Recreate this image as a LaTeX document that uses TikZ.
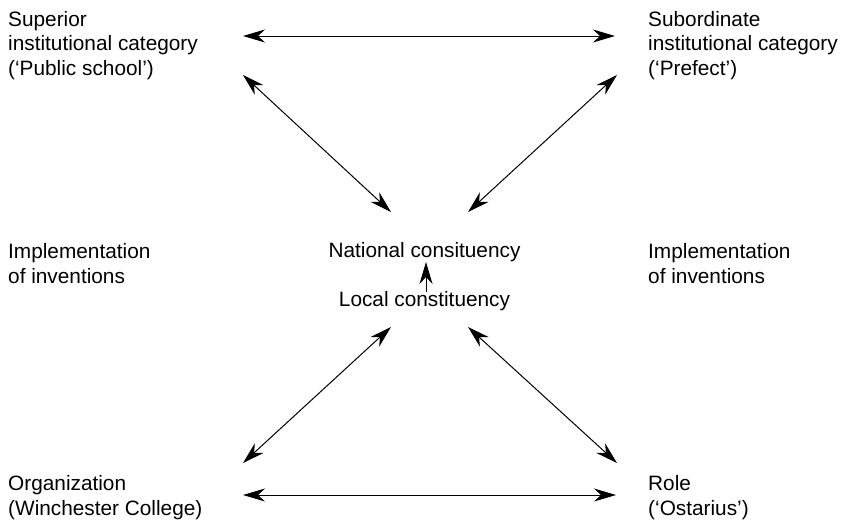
\documentclass[tikz,border=0pt]{standalone}
\usepackage{fontspec}
\setmainfont{Liberation Sans}
\usetikzlibrary{arrows.meta}
\begin{document}
\begin{tikzpicture}[x=1pt,y=-1pt,
  lbl/.style={inner sep=0pt, align=left, anchor=north west, font=\fontsize{20.8}{24.5}\selectfont},
  ctr/.style={inner sep=0pt, anchor=base, font=\fontsize{20.8}{24.5}\selectfont},
  link/.style={line width=1pt, {Stealth[length=22pt,width=13pt,inset=7pt]}-{Stealth[length=22pt,width=13pt,inset=7pt]}},
  uplink/.style={line width=1pt, -{Stealth[length=22pt,width=13pt,inset=7pt]}}
  ]
\useasboundingbox (0,0) rectangle (842,525);
% texts
\node[lbl] (sup) at (8,11) {Superior\\institutional category\\(‘Public school’)};
\node[lbl] (sub) at (648,11) {Subordinate\\institutional category\\(‘Prefect’)};
\node[lbl] (impl) at (8,243.5) {Implementation\\of inventions};
\node[lbl] (impr) at (648,243.5) {Implementation\\of inventions};
\node[ctr] (nat) at (424.5,257) {National consituency};
\node[ctr] (loc) at (424.5,306) {Local constituency};
\node[lbl] (org) at (8,475.5) {Organization\\(Winchester College)};
\node[lbl] (role) at (648,475.5) {Role\\(‘Ostarius’)};
% connector end points
\coordinate (supE) at (243,36);
\coordinate (subW) at (615,36);
\coordinate (supSE) at (243,75);
\coordinate (subSW) at (617,75);
\coordinate (natSW) at (391,212);
\coordinate (natSE) at (468,212);
\coordinate (locSW) at (391,327);
\coordinate (locSE) at (468,327);
\coordinate (orgNE) at (243,463);
\coordinate (roleNW) at (617,463);
\coordinate (orgE) at (243,495);
\coordinate (roleW) at (616,495);
\coordinate (locN) at (426,292);
\coordinate (natS) at (426,262);
% connectors
\draw[link] (supE) -- (subW);
\draw[link] (supSE) -- (natSW);
\draw[link] (subSW) -- (natSE);
\draw[link] (locSW) -- (orgNE);
\draw[link] (locSE) -- (roleNW);
\draw[link] (orgE) -- (roleW);
\draw[uplink] (locN) -- (natS);
\end{tikzpicture}
\end{document}
